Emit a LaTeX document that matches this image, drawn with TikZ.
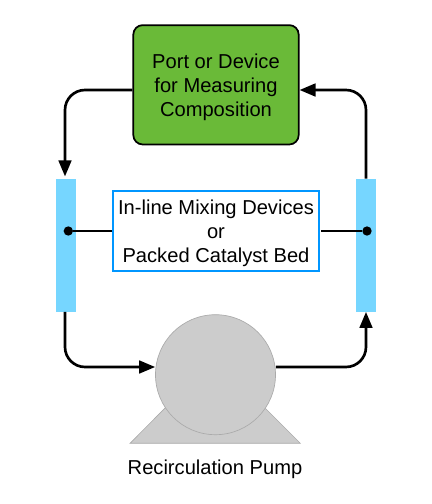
\documentclass[tikz,border=0pt]{standalone}
\usepackage{fontspec}
\setmainfont{Liberation Sans}
\usetikzlibrary{arrows.meta}
\definecolor{portgreen}{HTML}{6ABA38}
\definecolor{barblue}{HTML}{76D6FF}
\definecolor{mixblue}{HTML}{0096FF}
\definecolor{pumpgray}{HTML}{CCCCCC}
\definecolor{pumpedge}{HTML}{AAAAAA}
\newcommand{\toppad}{\rule{0pt}{14pt}}
\tikzset{
  boxtext/.style={align=center,font=\fontsize{15.1pt}{18pt}\selectfont},
  teebar/.style={fill=barblue,minimum width=15pt,minimum height=99.5pt,inner sep=0pt},
  flowline/.style={line width=2pt,rounded corners=15pt,
    -{Triangle[length=12pt,width=9.5pt]}},
  stemline/.style={line width=1.9pt},
  stemdot/.style={circle,fill=black,inner sep=0pt,minimum size=7pt},
  pumpbody/.style={fill=pumpgray,draw=pumpedge,line width=0.5pt}
}
\begin{document}
\begin{tikzpicture}[x=0.75pt,y=-0.75pt]
  \useasboundingbox (0,0) rectangle (432,504);
  \node[teebar] (inbar) at (66,245.3) {};
  \node[teebar] (outbar) at (366,245.3) {};
  \node[boxtext,fill=portgreen,draw=black,line width=1.3pt,rounded corners=7pt,%
    minimum width=124pt,minimum height=89.5pt,inner sep=0pt] (port) at (216,84.8)%
    {\toppad Port or Device\\for Measuring\\Composition};
  \node[boxtext,draw=mixblue,line width=1.3pt,minimum width=154pt,minimum height=60pt,%
    inner sep=0pt] (mixer) at (216,231.3)%
    {\toppad In-line Mixing Devices\\or\\Packed Catalyst Bed};
  \draw[pumpbody] (130,443.3) -- (300.3,443.3) -- (215,358) -- cycle;
  \node[pumpbody,circle,minimum size=90pt,inner sep=0pt] (pump) at (215.5,374.7) {};
  \node[boxtext] (pumplabel) at (215,469) {Recirculation Pump};
  \node[stemdot] (indot) at (68.3,231) {};
  \node[stemdot] (outdot) at (367,231) {};
  \draw[stemline] (indot) -- (mixer.west |- indot);
  \draw[stemline] (outdot) -- ([xshift=1pt]mixer.east |- outdot);
  \draw[flowline,shorten >=1.7pt] (port.west |- 0,90) -| ([xshift=-0.75pt]inbar.north);
  \draw[flowline] ([xshift=-0.75pt]inbar.south) |- (pump.west |- 0,367);
  \draw[flowline] (pump.east |- 0,367) -| (outbar.south);
  \draw[flowline] (outbar.north) |- (port.east |- 0,90);
\end{tikzpicture}
\end{document}
